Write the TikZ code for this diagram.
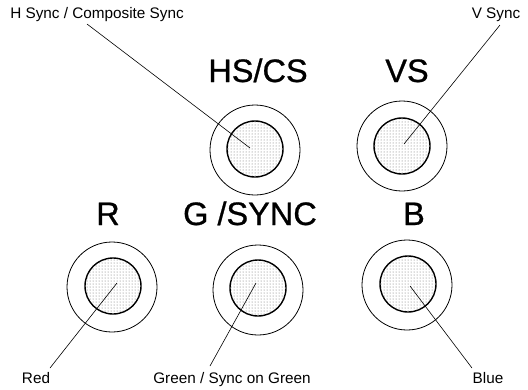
\documentclass[tikz,border=0pt]{standalone}
\usepackage{fontspec}
\setmainfont{Liberation Sans}
\newfontfamily\bigfont[FakeBold=0.8]{Liberation Sans}
\usetikzlibrary{patterns}
\begin{document}
\begin{tikzpicture}[x=1pt,y=-1pt,
  outerring/.style={circle,draw=black,line width=0.8pt,inner sep=0pt,minimum size=90pt},
  pin/.style={circle,draw=black,line width=1.4pt,inner sep=0pt,minimum size=56pt,
    pattern=dots,pattern color=black!60},
  bigtext/.style={anchor=base,inner sep=0pt,font=\bigfont\fontsize{32.5}{36}\selectfont},
  smalltext/.style={anchor=base,inner sep=0pt,font=\fontsize{15.3}{18}\selectfont},
  leader/.style={draw=black,line width=0.6pt}]
\useasboundingbox (0,0) rectangle (528,389);
% connectors (rings and pins)
\node[outerring] (hsr) at (255,150) {};
\node[pin] (hsp) at (255,149) {};
\node[outerring] (vsr) at (402,146) {};
\node[pin] (vsp) at (402,146) {};
\node[outerring] (rr) at (112,287) {};
\node[pin] (rp) at (113,286) {};
\node[outerring] (gr) at (258,290) {};
\node[pin] (gp) at (258,288) {};
\node[outerring] (br) at (407,285) {};
\node[pin] (bp) at (408,284) {};
% leader end points inside the pins
\coordinate (hse) at (250,148);
\coordinate (vse) at (404,144);
\coordinate (re) at (117,283);
\coordinate (ge) at (256,283);
\coordinate (be) at (410,286);
% big labels
\node[bigtext] (hsl) at (258,82) {HS/CS};
\node[bigtext] (vsl) at (407,82) {VS};
\node[bigtext] (rl) at (108,225) {R};
\node[bigtext] (gl) at (250,225) {G /SYNC};
\node[bigtext] (bl) at (414,225) {B};
% small labels
\node[smalltext] (hst) at (97,18) {H Sync / Composite Sync};
\node[smalltext] (vst) at (496,18) {V Sync};
\node[smalltext] (rt) at (36,383) {Red};
\node[smalltext] (gt) at (232,383) {Green / Sync on Green};
\node[smalltext] (bt) at (488,383) {Blue};
% leader line start points near labels
\coordinate (hss) at (87,24);
\coordinate (vss) at (500,25);
\coordinate (rs) at (50,368);
\coordinate (gs) at (210,366);
\coordinate (bs) at (472,368);
\draw[leader] (hss) -- (hse);
\draw[leader] (vss) -- (vse);
\draw[leader] (rs) -- (re);
\draw[leader] (gs) -- (ge);
\draw[leader] (bs) -- (be);
\end{tikzpicture}
\end{document}
